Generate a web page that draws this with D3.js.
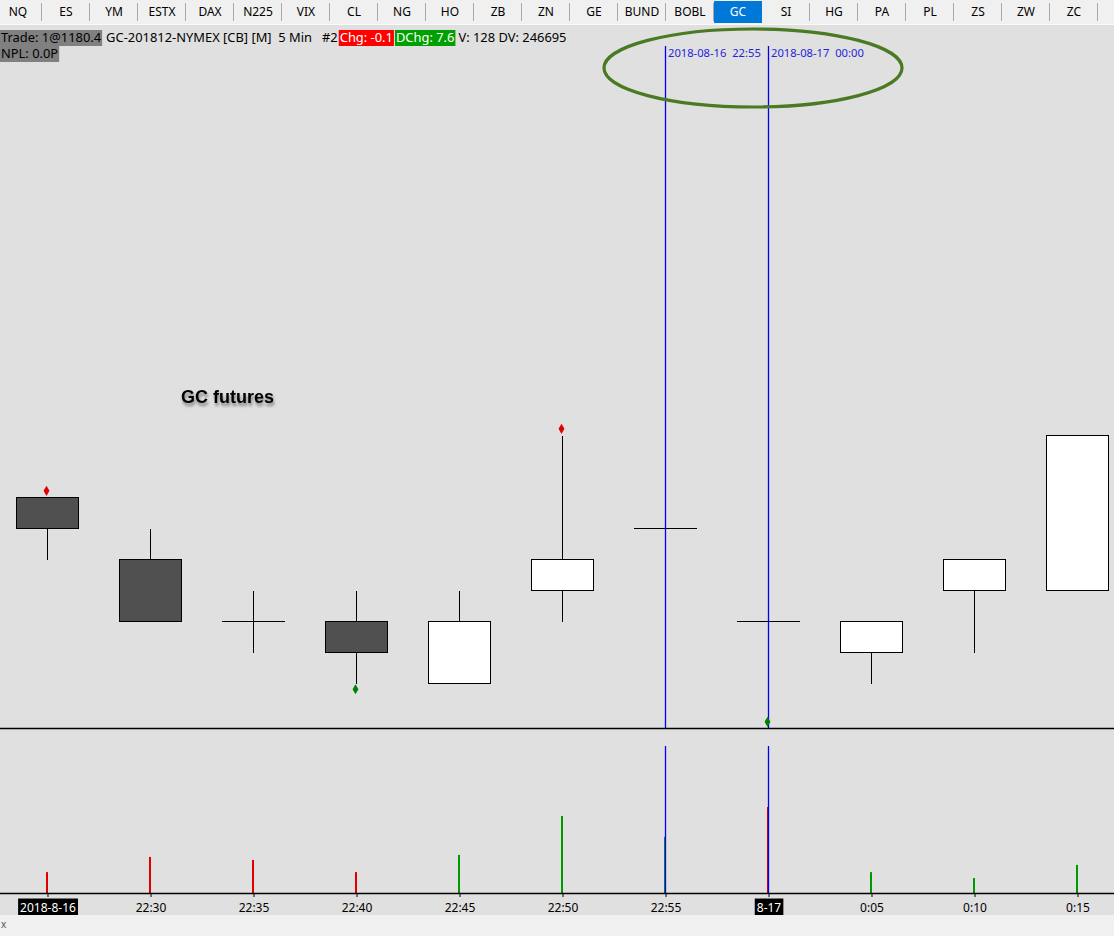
<!DOCTYPE html>
<html lang="en">
<head>
  <meta charset="utf-8">
  <title>GC futures 5 Min</title>
  <script src="https://d3js.org/d3.v7.min.js"></script>
  <style>
    body { margin: 0; background: #e0e0e0; }
    svg text { font-family: "Noto Sans", "Open Sans", sans-serif; white-space: pre; }
    .tab text { font-size: 12px; fill: #000; text-anchor: middle; }
    .hdr { font-size: 12.9px; fill: #000; }
    .axis text { font-size: 12px; fill: #000; }
    .cursorLabel { font-size: 11.2px; fill: #2424d8; }
    #title { font-family: Arial, "Liberation Sans", sans-serif; font-size: 18px; font-weight: bold; }
  </style>
</head>
<body>
<script>
  // size
  const width = 1114, height = 936;

  // top tabs
  const tabNames = ["NQ", "ES", "YM", "ESTX", "DAX", "N225", "VIX", "CL", "NG", "HO", "ZB", "ZN",
    "GE", "BUND", "BOBL", "GC", "SI", "HG", "PA", "PL", "ZS", "ZW", "ZC"];
  const activeTab = "GC";

  // 5 min bars
  const times = ["22:25", "22:30", "22:35", "22:40", "22:45", "22:50", "22:55", "00:00", "0:05", "0:10", "0:15"];
  const tickLabels = ["2018-8-16", "22:30", "22:35", "22:40", "22:45", "22:50", "22:55", "8-17", "0:05", "0:10", "0:15"];
  const opens  = [1180.2, 1180.0, 1179.8, 1179.8, 1179.6, 1179.9, 1180.1, 1179.8, 1179.7, 1179.9, 1179.9];
  const highs  = [1180.2, 1180.1, 1179.9, 1179.9, 1179.9, 1180.4, 1180.1, 1179.8, 1179.8, 1180.0, 1180.4];
  const lows   = [1180.0, 1179.8, 1179.7, 1179.6, 1179.6, 1179.8, 1180.1, 1179.8, 1179.6, 1179.7, 1179.9];
  const closes = [1180.1, 1179.8, 1179.8, 1179.7, 1179.8, 1180.0, 1180.1, 1179.8, 1179.8, 1180.0, 1180.4];
  const volumes = [95, 164, 150, 95, 173, 350, 255, 391, 95, 68, 128];
  const volumeSide = ["down", "down", "down", "down", "up", "up", "up", "down", "up", "up", "up"];

  // diamonds (high / low marks)
  const markTimes  = ["22:25", "22:50", "22:40", "00:00"];
  const markPrices = [1180.22, 1180.42, 1179.58, 1179.475];
  const markKinds  = ["high", "high", "low", "low"];

  // cursor lines
  const cursorTimes  = ["22:55", "00:00"];
  const cursorLabels = ["2018-08-16  22:55", "2018-08-17  00:00"];

  // header
  const symbolText = "GC-201812-NYMEX [CB] [M]  5 Min   #2";
  const tradeText = "Trade: 1@1180.4";
  const chgText = "Chg: -0.1", dchgText = "DChg: 7.6";
  const volText = "V: 128 DV: 246695";
  const nplText = "NPL: 0.0P";

  // layout
  const tabH = 23;
  const priceTop = 26, priceBottom = 728;
  const volTop = 746, volBottom = 893;
  const bodyW = 62;

  const svg = d3.select("body").append("svg")
    .attr("width", width).attr("height", height);

  svg.append("rect").attr("width", width).attr("height", height).attr("fill", "#e0e0e0");

  // tabs
  const tabScale = d3.scaleBand().domain(tabNames).range([-6, -6 + 48 * tabNames.length]);
  svg.append("rect").attr("width", width).attr("height", tabH + 2).attr("fill", "#f0f0f0");
  svg.append("line").attr("x1", 0).attr("x2", width).attr("y1", tabH + 1.5).attr("y2", tabH + 1.5)
    .attr("stroke", "#fafafa");
  const tabG = svg.append("g").attr("class", "tab");
  tabG.selectAll("line.sep").data(tabNames.concat(["_end"]))
    .join("line").attr("class", "sep")
    .attr("x1", (d, i) => -6 + 48 * (i + 1) - 0.5)
    .attr("x2", (d, i) => -6 + 48 * (i + 1) - 0.5)
    .attr("y1", 3).attr("y2", 21)
    .attr("stroke", "#a8a8a8");
  tabG.append("rect")
    .attr("x", tabScale(activeTab)).attr("y", 1)
    .attr("width", tabScale.bandwidth()).attr("height", tabH - 1)
    .attr("fill", "#0078d7");
  tabG.selectAll("text").data(tabNames).join("text")
    .attr("x", d => tabScale(d) + tabScale.bandwidth() / 2)
    .attr("y", 15.5)
    .style("fill", d => d === activeTab ? "#fff" : "#000")
    .text(d => d);

  // header line
  function boxText(x, y, txt, bg, fg) {
    const t = svg.append("text").attr("class", "hdr").attr("x", x).attr("y", y).text(txt).style("fill", fg);
    const w = t.node().getComputedTextLength();
    svg.insert("rect", () => t.node())
      .attr("x", x - 1).attr("y", y - 12).attr("width", w + 2).attr("height", 16).attr("fill", bg);
    return x + w + 2;
  }
  let hx = boxText(1, 42, tradeText, "#808080", "#000");
  const sym = svg.append("text").attr("class", "hdr").attr("x", hx + 3).attr("y", 42).text(symbolText);
  hx = hx + 3 + sym.node().getComputedTextLength() + 2;
  hx = boxText(hx, 42, chgText, "#ff0000", "#fff");
  hx = boxText(hx + 1, 42, dchgText, "#00a000", "#fff");
  svg.append("text").attr("class", "hdr").attr("x", hx + 2).attr("y", 42).text(volText);
  boxText(1, 58, nplText, "#808080", "#000");

  // scales
  const x = d3.scalePoint().domain(times).range([47, 1077]);
  const y = d3.scaleLinear().domain([1179.455, 1181.719]).range([priceBottom, priceTop]);
  const yVol = d3.scaleLinear().domain([0, 750]).range([volBottom, volBottom - 165]);
  const py = v => Math.round(y(v)) + 0.5;

  const bars = times.map((t, i) => ({
    t, open: opens[i], high: highs[i], low: lows[i], close: closes[i],
    vol: volumes[i], side: volumeSide[i]
  }));

  // title text
  const defs = svg.append("defs");
  const f = defs.append("filter").attr("id", "shadow").attr("x", "-10%").attr("y", "-30%")
    .attr("width", "130%").attr("height", "180%");
  f.append("feDropShadow").attr("dx", 1).attr("dy", 3).attr("stdDeviation", 1.6)
    .attr("flood-color", "#000").attr("flood-opacity", 0.45);
  svg.append("text").attr("id", "title").attr("x", 181).attr("y", 403)
    .attr("filter", "url(#shadow)").text("GC futures");

  // candles
  const candle = svg.append("g").attr("shape-rendering", "crispEdges")
    .selectAll("g").data(bars).join("g")
    .attr("transform", d => `translate(${x(d.t)},0)`);
  candle.filter(d => d.high > Math.max(d.open, d.close)).append("line")
    .attr("x1", 0.5).attr("x2", 0.5)
    .attr("y1", d => py(d.high)).attr("y2", d => py(Math.max(d.open, d.close)))
    .attr("stroke", "#000").attr("stroke-width", 1.5);
  candle.filter(d => d.low < Math.min(d.open, d.close)).append("line")
    .attr("x1", 0.5).attr("x2", 0.5)
    .attr("y1", d => py(Math.min(d.open, d.close))).attr("y2", d => py(d.low))
    .attr("stroke", "#000").attr("stroke-width", 1.5);
  candle.filter(d => d.open !== d.close).append("rect")
    .attr("x", -bodyW / 2 + 0.5).attr("width", bodyW)
    .attr("y", d => py(Math.max(d.open, d.close)))
    .attr("height", d => py(Math.min(d.open, d.close)) - py(Math.max(d.open, d.close)))
    .attr("fill", d => d.close < d.open ? "#505050" : "#ffffff")
    .attr("stroke", "#000").attr("stroke-width", 1.5);
  candle.filter(d => d.open === d.close).append("line")
    .attr("x1", -bodyW / 2).attr("x2", bodyW / 2 + 1)
    .attr("y1", d => py(d.close)).attr("y2", d => py(d.close))
    .attr("stroke", "#000").attr("stroke-width", 1.5);

  // pane separator
  svg.append("line").attr("x1", 0).attr("x2", width).attr("y1", priceBottom + 0.5).attr("y2", priceBottom + 0.5)
    .attr("stroke", "#000").attr("stroke-width", 1.3);

  // volume
  svg.append("g").selectAll("rect").data(bars).join("rect")
    .attr("x", d => x(d.t) - 1).attr("width", 2)
    .attr("y", d => yVol(d.vol)).attr("height", d => volBottom - yVol(d.vol))
    .attr("fill", d => d.side === "up" ? "#009900" : "#e00000");

  // cursor lines
  const cur = svg.append("g").selectAll("g").data(cursorTimes).join("g");
  cur.append("line")
    .attr("x1", d => x(d) + 0.5).attr("x2", d => x(d) + 0.5)
    .attr("y1", 46).attr("y2", priceBottom)
    .attr("stroke", "#0000ff").attr("stroke-width", 1.3);
  cur.append("line")
    .attr("x1", d => x(d) + 0.5).attr("x2", d => x(d) + 0.5)
    .attr("y1", volTop).attr("y2", volBottom)
    .attr("stroke", "#0000ff").attr("stroke-width", 1.3);
  cur.append("text").attr("class", "cursorLabel")
    .attr("x", d => x(d) + 3).attr("y", 57)
    .text((d, i) => cursorLabels[i]);

  // diamonds
  svg.append("g").selectAll("path").data(markTimes).join("path")
    .attr("transform", (d, i) => `translate(${x(d) - 0.5},${y(markPrices[i])})`)
    .attr("d", d3.symbol(d3.symbolDiamond, 30))
    .attr("fill", (d, i) => markKinds[i] === "high" ? "#e00000" : "#008000");

  // time axis
  const xAxis = d3.axisBottom(x).tickSizeOuter(0).tickSize(4).tickPadding(6)
    .tickFormat((d, i) => tickLabels[i]);
  const axG = svg.append("g").attr("class", "axis")
    .attr("transform", `translate(0.5,${volBottom})`).call(xAxis);
  axG.select(".domain").remove();
  axG.selectAll(".tick line").attr("stroke", "#000");
  svg.append("line").attr("x1", 0).attr("x2", width).attr("y1", volBottom + 0.5).attr("y2", volBottom + 0.5)
    .attr("stroke", "#000").attr("stroke-width", 1.3);
  axG.selectAll(".tick").filter((d, i) => tickLabels[i].includes("-")).each(function () {
    const t = d3.select(this).select("text").style("fill", "#fff");
    const bb = t.node().getBBox();
    d3.select(this).insert("rect", "text")
      .attr("x", bb.x - 2).attr("y", bb.y).attr("width", bb.width + 4).attr("height", bb.height)
      .attr("fill", "#000");
  });

  // status strip
  svg.append("rect").attr("x", 0).attr("y", 915).attr("width", width).attr("height", height - 915)
    .attr("fill", "#f0f0f0");
  svg.append("text").attr("x", 1).attr("y", 928).style("font-size", "10px").style("fill", "#555").text("x");

  // annotation ellipse
  svg.append("ellipse").attr("cx", 753).attr("cy", 68).attr("rx", 149).attr("ry", 39)
    .attr("fill", "none").attr("stroke", "#4a7a22").attr("stroke-width", 3.2);
</script>
</body>
</html>
